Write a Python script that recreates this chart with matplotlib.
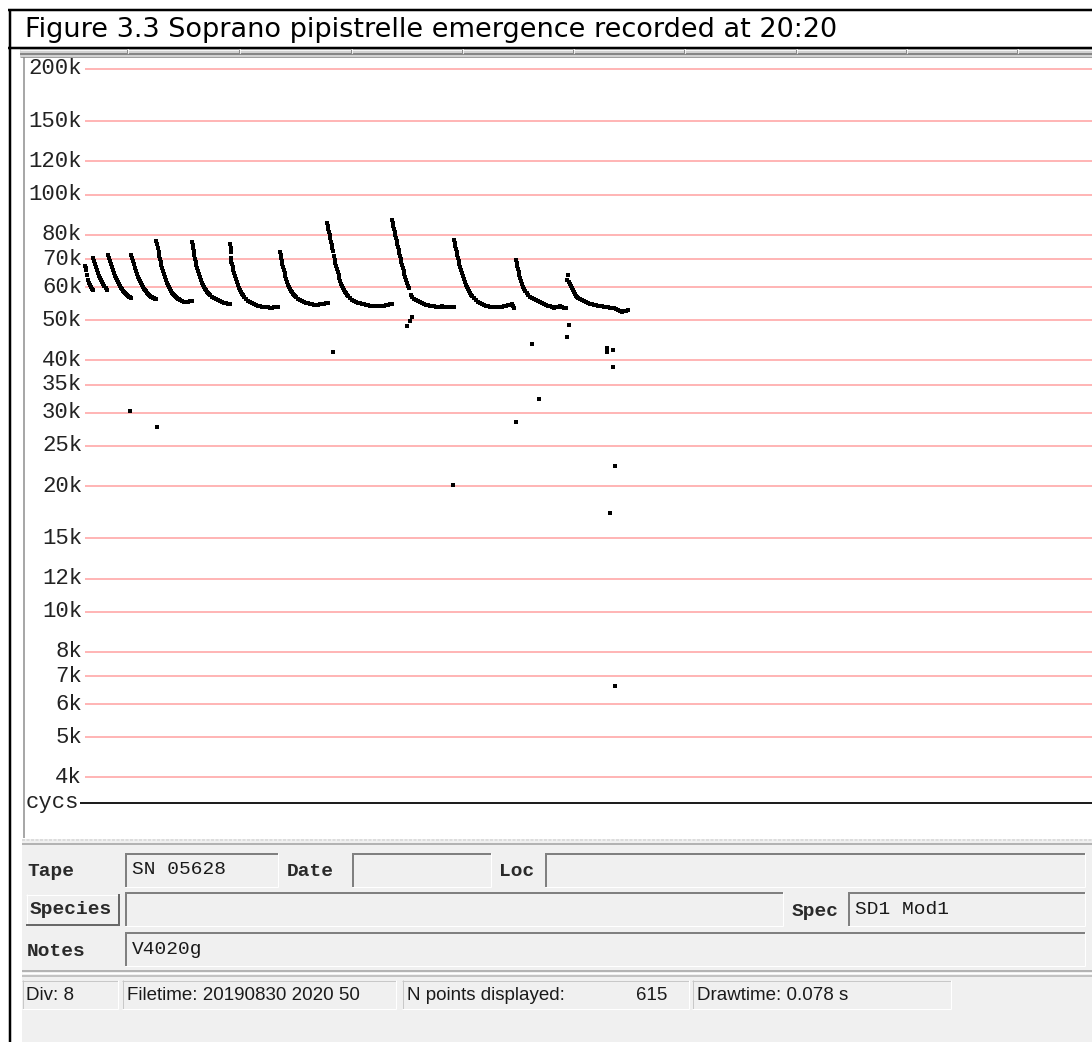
import matplotlib
matplotlib.use("Agg")
import matplotlib.pyplot as plt
from matplotlib.patches import Rectangle

W, H = 1092, 1042

# ── y grid (kHz) and labels ─────────────────────────────────
grid_khz = [200, 150, 120, 100, 80, 70, 60, 50, 40, 35, 30, 25, 20, 15, 12, 10, 8, 7, 6, 5, 4]
grid_lbl = ["200k", "150k", "120k", "100k", "80k", "70k", "60k", "50k", "40k", "35k", "30k",
            "25k", "20k", "15k", "12k", "10k", "8k", "7k", "6k", "5k", "4k"]

# ── call pulses: time (display units) / frequency (kHz) ──────
p1_t = [85, 85.5, 86, 87, 88, 89, 90, 91, 92, 93]
p1_f = [67.4, 66.7, 65.9, 64.1, 62.4, 61.4, 60.7, 60.0, 59.4, 59.0]

p2_t = [92.5, 93.5, 94.5, 95.5, 96.5, 97.5, 98.5, 99.5, 100.5, 101.5, 102.5, 104, 105.5, 107]
p2_f = [70.5, 69.3, 68.2, 67.0, 65.9, 64.9, 63.8, 63.1, 62.4, 61.7, 61.0, 60.4, 59.7, 59.0]

p3_t = [108, 109, 110, 111, 112, 113, 114, 115, 116, 117, 118, 119, 120, 121, 122, 123, 124, 125,
        126, 127, 128, 129, 130, 131]
p3_f = [71.6, 70.5, 69.3, 68.2, 67.0, 65.9, 64.9, 63.8, 63.1, 62.4, 61.7, 61.0, 60.4, 59.7, 59.4,
        58.7, 58.4, 58.1, 57.8, 57.4, 57.1, 56.8, 56.8, 56.5]

p4_t = [131, 132, 133, 134, 135, 136, 137, 138, 139, 140, 141, 142, 143, 144, 145, 146, 147, 148,
        149, 150, 151, 152, 153, 154, 155, 156]
p4_f = [71.6, 70.5, 69.3, 68.2, 66.7, 65.6, 64.5, 63.4, 62.7, 62.1, 61.4, 60.7, 60.0, 59.4, 59.0,
        58.7, 58.1, 57.8, 57.4, 57.1, 56.8, 56.8, 56.5, 56.5, 56.2, 56.2]

p5_t = [156, 157, 158, 158.5, 159, 160, 160.5, 161, 162, 163, 164, 165, 166, 167, 168, 169, 170,
        171, 172, 173, 174, 175, 176, 177, 178, 179, 180, 182, 184, 186, 188, 190, 192]
p5_f = [77.4, 76.1, 74.5, 72.8, 71.2, 70.1, 68.9, 67.8, 66.7, 65.6, 64.5, 63.4, 62.4, 61.4, 60.7,
        60.0, 59.4, 58.7, 58.1, 57.8, 57.4, 57.1, 56.8, 56.5, 56.2, 56.2, 55.9, 55.6, 55.3, 55.3,
        55.3, 55.6, 55.6]

p6_t = [192, 192.5, 193, 193.5, 194, 195, 195.5, 196, 197, 198, 199, 200, 201, 202, 203, 204, 205,
        206, 207, 208, 209, 210, 212, 214, 216, 218, 220, 222, 224, 226, 228, 230]
p6_f = [77.0, 75.7, 74.5, 73.2, 71.6, 70.1, 68.9, 67.8, 66.7, 65.6, 64.5, 63.4, 62.4, 61.4, 60.7,
        60.0, 59.4, 59.0, 58.4, 58.1, 57.8, 57.4, 56.8, 56.5, 56.2, 55.9, 55.6, 55.3, 55.0, 55.0,
        54.7, 54.7]

p7_t = [230, 230.5, 231, 230.5, 231, 232, 232.5, 233, 234, 235, 236, 237, 238, 239, 240, 241, 242,
        243, 244, 246, 248, 250, 252, 254, 256, 258, 260, 262, 264, 266, 268, 270, 272, 274, 276, 278]
p7_f = [76.1, 74.5, 72.8, 70.5, 68.9, 68.2, 67.0, 65.9, 64.9, 63.8, 62.7, 61.7, 60.7, 59.7, 59.0,
        58.4, 57.8, 57.4, 56.8, 56.2, 55.6, 55.3, 55.0, 54.7, 54.4, 54.1, 54.1, 53.8, 53.8, 53.8,
        53.8, 53.5, 53.5, 53.8, 53.8, 53.8]

p8_t = [280, 280.5, 281, 281.5, 282, 283, 284, 284.5, 285, 286, 287, 288, 289, 290, 291, 292, 293,
        294, 295, 296, 298, 300, 302, 304, 306, 308, 310, 312, 314, 316, 318, 320, 322, 324, 326, 328]
p8_f = [72.8, 71.6, 70.5, 69.3, 68.2, 67.0, 65.9, 64.9, 63.8, 62.7, 61.7, 60.7, 60.0, 59.4, 58.7,
        58.4, 57.8, 57.4, 57.1, 56.8, 56.2, 55.9, 55.6, 55.3, 55.0, 55.0, 54.7, 54.7, 54.4, 54.4,
        54.4, 54.7, 54.7, 54.7, 55.0, 55.0]

p9_t = [327, 327.5, 328, 329, 329.5, 330, 331, 331.5, 332, 333, 334, 334.5, 335, 336, 337, 338,
        338.5, 339, 340, 341, 342, 343, 344, 345, 346, 347, 348, 350, 352, 354, 356, 358, 360, 362,
        364, 366, 368, 370, 372, 374, 376, 378, 380, 382, 384, 386, 388, 390, 392]
p9_f = [85.5, 84.1, 82.7, 81.3, 80.0, 78.7, 77.0, 75.7, 74.5, 73.2, 71.2, 69.7, 68.5, 67.4, 66.3,
        65.2, 64.1, 63.1, 62.1, 61.0, 60.4, 59.7, 59.0, 58.4, 58.1, 57.4, 57.1, 56.5, 55.9, 55.6,
        55.3, 55.0, 55.0, 54.7, 54.7, 54.4, 54.4, 54.1, 54.1, 54.1, 54.1, 54.1, 54.1, 54.1, 54.1,
        54.4, 54.4, 54.7, 54.7]

p10_t = [392, 392.5, 393, 394, 394.5, 395, 396, 396.5, 397, 398, 398.5, 399, 400, 400.5, 401, 402,
         403, 403.5, 404, 405, 406, 407, 408, 409, 411, 412, 414, 416, 418, 420, 422, 424, 426, 428,
         430, 432, 434, 436, 438, 440, 442, 444, 446, 448, 450, 452, 454]
p10_f = [86.9, 85.5, 84.1, 82.7, 81.3, 80.0, 78.7, 77.4, 76.1, 74.9, 73.6, 72.4, 71.2, 70.1, 68.9,
         67.8, 66.7, 65.6, 64.5, 63.4, 62.4, 61.4, 60.4, 59.7, 57.4, 56.8, 56.2, 55.9, 55.6, 55.3,
         55.0, 54.7, 54.4, 54.4, 54.1, 54.1, 54.1, 53.8, 53.8, 53.8, 54.1, 53.8, 53.8, 53.8, 53.8,
         53.8, 53.8]

p11_t = [454, 454.5, 455, 456, 456.5, 457, 458, 458.5, 459, 460, 461, 462, 463, 464, 465, 466, 467,
         468, 469, 470, 471, 472, 474, 476, 478, 480, 482, 484, 486, 488, 490, 492, 494, 496, 498,
         500, 502, 504, 506, 508, 510, 512, 513, 514]
p11_f = [77.8, 76.5, 75.3, 74.1, 72.8, 71.6, 70.5, 69.3, 68.2, 67.0, 65.9, 64.9, 63.8, 62.7, 61.7,
         60.7, 60.0, 59.4, 58.7, 58.1, 57.4, 57.1, 56.5, 55.9, 55.3, 55.0, 54.7, 54.4, 54.1, 54.1,
         53.8, 53.8, 53.8, 53.8, 53.8, 53.8, 53.8, 54.1, 54.1, 54.4, 54.4, 54.7, 54.1, 53.5]

p12_t = [516, 516.5, 517, 518, 518.5, 519, 520, 521, 522, 523, 524, 525, 527, 528, 530, 532, 534,
         536, 538, 540, 542, 544, 546, 548, 550, 552, 554, 556, 558, 560, 562, 564, 566]
p12_f = [69.7, 68.5, 67.4, 66.3, 65.2, 64.1, 63.1, 62.1, 61.0, 60.0, 59.4, 58.7, 58.1, 57.4, 56.8,
         56.5, 56.2, 55.9, 55.6, 55.3, 55.0, 54.7, 54.4, 54.1, 54.1, 53.8, 53.5, 53.8, 53.8, 54.1,
         53.8, 53.5, 53.5]

p13_t = [568, 567, 569, 570, 571, 572, 573, 574, 575, 576, 577, 578, 580, 582, 584, 586, 588, 590,
         592, 594, 596, 598, 600, 602, 604, 606, 608, 610, 612, 614, 616, 618, 620, 622, 624, 626, 628]
p13_f = [64.1, 62.4, 61.7, 61.0, 60.4, 59.7, 59.0, 58.4, 57.8, 57.1, 56.8, 56.5, 56.2, 55.9, 55.6,
         55.3, 55.0, 54.7, 54.7, 54.4, 54.4, 54.1, 54.1, 54.1, 53.8, 53.8, 53.8, 53.5, 53.5, 53.5,
         53.2, 52.9, 52.6, 52.3, 52.6, 52.6, 52.9]

# isolated points
stray_t = [130, 157, 333, 411.5, 409.5, 407, 453, 516, 532, 539, 567, 569, 607, 607, 613, 613, 615, 610, 615]
stray_f = [30.3, 27.7, 41.9, 50.9, 49.8, 48.4, 20.1, 28.5, 43.8, 32.3, 45.5, 48.6, 42.9, 41.9, 42.4,
           38.6, 22.3, 17.2, 6.63]

pulses = [(p1_t, p1_f), (p2_t, p2_f), (p3_t, p3_f), (p4_t, p4_f), (p5_t, p5_f), (p6_t, p6_f),
          (p7_t, p7_f), (p8_t, p8_f), (p9_t, p9_f), (p10_t, p10_f), (p11_t, p11_f),
          (p12_t, p12_f), (p13_t, p13_f)]

title = "Figure 3.3 Soprano pipistrelle emergence recorded at 20:20"
status = ["Div: 8", "Filetime: 20190830 2020 50", "N points displayed:", "615", "Drawtime: 0.078 s"]

# ─────────────────────────────────────────────────────────────
fig = plt.figure(figsize=(W / 100, H / 100), dpi=100)
fig.patch.set_facecolor("white")

# background layer in pixel coords (y down)
bg = fig.add_axes([0, 0, 1, 1])
bg.set_xlim(0, W); bg.set_ylim(H, 0); bg.axis("off")

PX = 0.72  # 1 px in points

def rect(x0, y0, x1, y1, **kw):
    bg.add_patch(Rectangle((x0, y0), x1 - x0, y1 - y0, **kw))

def hline(y, x0, x1, c, w=1, **kw):
    bg.plot([x0, x1], [y, y], color=c, lw=w * PX, solid_capstyle="butt", **kw)

def vline(x, y0, y1, c, w=1, **kw):
    bg.plot([x, x], [y0, y1], color=c, lw=w * PX, solid_capstyle="butt", **kw)

def sunken(x0, y0, x1, y1):
    rect(x0, y0, x1, y1, fc="#f0f0f0", ec="none")
    hline(y0 + 1, x0, x1, "#808080", 2); vline(x0 + 1, y0, y1, "#808080", 2)
    hline(y1 - 0.5, x0, x1, "#ffffff", 1); vline(x1 - 0.5, y0, y1, "#ffffff", 1)

def raised(x0, y0, x1, y1):
    rect(x0, y0, x1, y1, fc="#f0f0f0", ec="none")
    hline(y0 + 0.5, x0, x1, "#ffffff", 1); vline(x0 + 0.5, y0, y1, "#ffffff", 1)
    hline(y1 - 1, x0, x1, "#696969", 2); vline(x1 - 1, y0, y1, "#696969", 2)

def cell(x0, y0, x1, y1):
    hline(y0 + 0.5, x0, x1, "#c8c8c8", 1); vline(x0 + 0.5, y0, y1, "#c8c8c8", 1)
    hline(y1 - 0.5, x0, x1, "#ffffff", 1); vline(x1 - 0.5, y0, y1, "#ffffff", 1)

# outer frame + title
hline(10, 8, W, "black", 2.5)
hline(47.5, 8, W, "black", 2.5)
vline(9.5, 9, H, "black", 2.5)
bg.text(25, 37, title, fontsize=19.5, family="DejaVu Sans", va="baseline", color="black")

# toolbar strip with tabs
rect(20, 49, W, 57, fc="#d2d2d2", ec="none")
hline(49.5, 20, W, "#f4f4f4", 1)
hline(53.5, 20, W, "#6e6e6e", 1.5)
hline(56.5, 20, W, "#a0a0a0", 1)
for xt in [128, 240, 352, 463, 574, 685, 797, 907, 1018]:
    vline(xt, 49, 54, "#ffffff", 1.5)
    vline(xt - 1.5, 49, 54, "#8a8a8a", 1)

# plot panel border
vline(23.5, 57, 838, "#8c8c8c", 1.5)

# bottom info panel
rect(22, 839, W, H, fc="#f0f0f0", ec="none")
hline(840, 22, W, "#d6d6d6", 1.5, ls=(0, (2, 1)))
hline(843.5, 22, W, "#a0a0a0", 1.5)

mono = "Liberation Mono"
lab_kw = dict(family=mono, fontsize=14, fontweight="bold", va="center", color="#2a2a2a")
val_kw = dict(family=mono, fontsize=14, va="center", color="#1a1a1a")

sunken(125, 853, 278, 887)
sunken(352, 853, 491, 887)
sunken(545, 853, 1085, 887)
bg.text(27, 871, "Tape", **lab_kw)
bg.text(132, 869, "SN 05628", **val_kw)
bg.text(287, 871, "Date", **lab_kw)
bg.text(499, 871, "Loc", **lab_kw)

raised(26, 894, 120, 926)
bg.text(30, 909, "Species", **lab_kw)
sunken(125, 892, 783, 926)
bg.text(792, 911, "Spec", **lab_kw)
sunken(848, 892, 1085, 926)
bg.text(855, 909, "SD1 Mod1", **val_kw)

bg.text(27, 952, "Notes", **lab_kw)
sunken(125, 932, 1085, 966)
bg.text(132, 949, "V4020g", **val_kw)

hline(971, 22, W, "#a0a0a0", 1.5)
hline(973, 22, W, "#ffffff", 1)
hline(976, 22, W, "#b4b4b4", 1.5)

st_kw = dict(family="Liberation Sans", fontsize=13.5, va="center", color="#1a1a1a")
for x0, x1 in [(22, 118), (122, 396), (402, 689), (692, 951)]:
    cell(x0, 980, x1, 1009)
bg.text(26, 995, status[0], **st_kw)
bg.text(127, 995, status[1], **st_kw)
bg.text(407, 995, status[2], **st_kw)
bg.text(667, 995, status[3], ha="right", **st_kw)
bg.text(697, 995, status[4], **st_kw)

# ── frequency/time plot ──────────────────────────────────────
ax = fig.add_axes([25 / W, 1 - 838 / H, 1067 / W, 780 / H])
ax.set_yscale("log")
ax.set_xlim(25, W)
ax.set_ylim(2.864, 212.5)
ax.set_axis_off()

ax.hlines(grid_khz, 85, W, color="#ff9e9e", lw=1.5 * PX, zorder=1)
for v, lbl in zip(grid_khz, grid_lbl):
    ax.text(82, v, lbl, ha="right", va="center", family=mono, fontsize=16, color="#222222")

base = ax.get_xaxis_transform()
ax.plot([81, W], [0.0449, 0.0449], transform=base, color="#1e1e1e", lw=2 * PX)
ax.text(26, 0.0449, "cycs", transform=base, ha="left", va="center", family=mono,
        fontsize=16, color="#222222")

for t, f in pulses:
    ax.plot(t, f, "s", ms=2.7, mew=0, color="black", zorder=3)
ax.plot(stray_t, stray_f, "s", ms=2.4, mew=0, color="black", zorder=3)

fig.savefig("out.png", dpi=100, facecolor="white")
